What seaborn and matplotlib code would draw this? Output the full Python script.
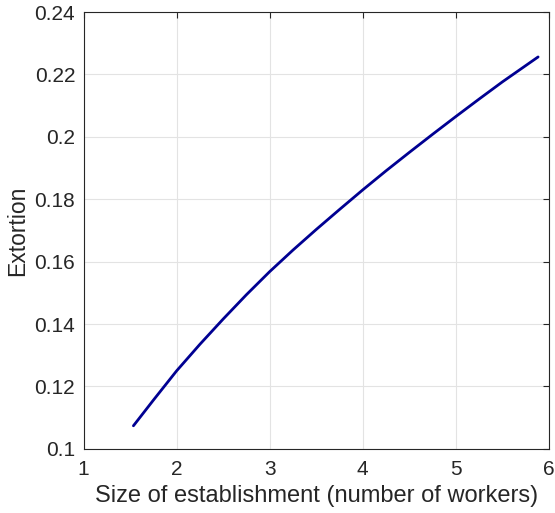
import numpy as np
import pandas as pd
import matplotlib
matplotlib.use('Agg')
import matplotlib.pyplot as plt
import seaborn as sns

# values
size_workers = [1.536, 1.75, 2.0, 2.25, 2.5, 2.75, 3.0, 3.25, 3.5, 3.75,
                4.0, 4.25, 4.5, 4.75, 5.0, 5.25, 5.5, 5.884]
extortion = [0.1074, 0.1156, 0.1250, 0.1335, 0.1416, 0.1494, 0.1568, 0.1637, 0.1703, 0.1767,
             0.1830, 0.1891, 0.1950, 0.2008, 0.2065, 0.2121, 0.2176, 0.2256]

x_ticks = [1, 2, 3, 4, 5, 6]
y_ticks = [0.1, 0.12, 0.14, 0.16, 0.18, 0.2, 0.22, 0.24]
y_tick_labels = ['0.1', '0.12', '0.14', '0.16', '0.18', '0.2', '0.22', '0.24']

df = pd.DataFrame({'size': size_workers, 'extortion': extortion})

sns.set_style('white')
plt.rcParams['font.family'] = ['Liberation Sans', 'DejaVu Sans']

fig = plt.figure(figsize=(5.55, 5.13), dpi=100)
ax = fig.add_axes([0.1505, 0.125, 0.8385, 0.8516])

sns.lineplot(data=df, x='size', y='extortion', color='#000092', linewidth=2.0, ax=ax)

ax.set_xlim(1, 6)
ax.set_ylim(0.1, 0.24)
ax.set_xticks(x_ticks)
ax.set_yticks(y_ticks)
ax.set_yticklabels(y_tick_labels)
ax.grid(True, color='#e3e3e3', linewidth=0.8)
ax.set_axisbelow(True)

for s in ax.spines.values():
    s.set_color('#262626')
    s.set_linewidth(0.8)
ax.tick_params(direction='in', length=4, width=0.8, colors='#262626',
               labelsize=15, top=True, right=True, pad=6)
ax.tick_params(axis='x', pad=8)

ax.set_xlabel('Size of establishment (number of workers)', fontsize=17, color='#262626', labelpad=4)
ax.set_ylabel('Extortion', fontsize=16.5, color='#262626', labelpad=4)

fig.savefig('out.png', dpi=100)
